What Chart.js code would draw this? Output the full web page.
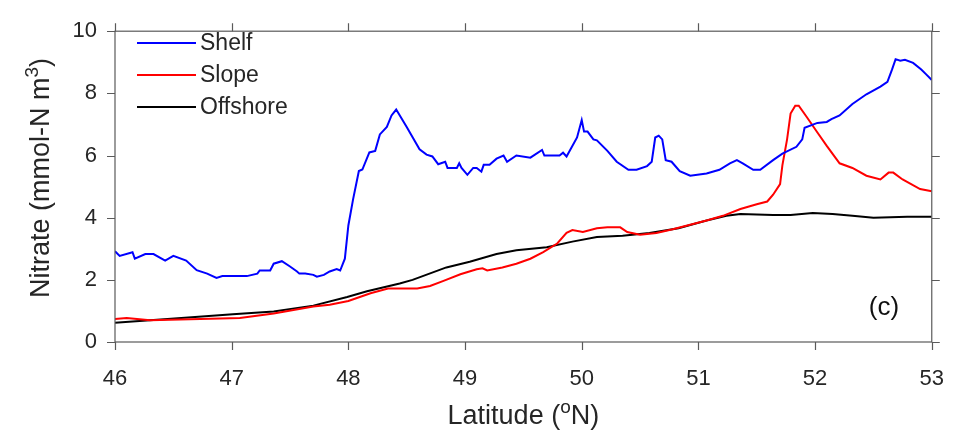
<!DOCTYPE html>
<html>
<head>
<meta charset="utf-8">
<script src="https://cdn.jsdelivr.net/npm/chart.js@4/dist/chart.umd.min.js"></script>
<style>
  html, body { margin: 0; padding: 0; background: #fff; }
  #wrap { width: 968px; height: 432px; }
</style>
</head>
<body>
<div id="wrap"><canvas id="nitrateChart" width="968" height="432"></canvas></div>
<script>
// Latitude (°N) / nitrate (mmol-N m^3) along each transect
const shelfLat = [46.0, 46.04, 46.15, 46.17, 46.26, 46.33, 46.43, 46.5, 46.61, 46.7, 46.79, 46.87, 46.92, 47.13, 47.22, 47.24, 47.33, 47.36, 47.43, 47.5, 47.56, 47.58, 47.63, 47.7, 47.73, 47.79, 47.84, 47.9, 47.93, 47.97, 48.0, 48.04, 48.09, 48.12, 48.18, 48.23, 48.27, 48.33, 48.37, 48.41, 48.5, 48.61, 48.67, 48.72, 48.77, 48.83, 48.85, 48.93, 48.95, 48.97, 49.02, 49.07, 49.1, 49.14, 49.16, 49.21, 49.27, 49.33, 49.36, 49.44, 49.56, 49.66, 49.68, 49.81, 49.84, 49.87, 49.96, 50.0, 50.02, 50.05, 50.1, 50.13, 50.22, 50.3, 50.4, 50.47, 50.56, 50.6, 50.63, 50.66, 50.69, 50.72, 50.77, 50.84, 50.93, 51.07, 51.18, 51.27, 51.33, 51.38, 51.47, 51.53, 51.64, 51.72, 51.84, 51.89, 51.91, 52.02, 52.1, 52.14, 52.21, 52.32, 52.44, 52.56, 52.62, 52.66, 52.69, 52.73, 52.77, 52.84, 52.91, 52.95, 53.0];
const shelfNo3 = [2.92, 2.77, 2.89, 2.68, 2.83, 2.83, 2.62, 2.77, 2.62, 2.31, 2.2, 2.06, 2.12, 2.12, 2.2, 2.3, 2.3, 2.52, 2.6, 2.43, 2.27, 2.2, 2.2, 2.16, 2.1, 2.16, 2.27, 2.35, 2.3, 2.68, 3.75, 4.58, 5.5, 5.55, 6.1, 6.15, 6.68, 6.92, 7.29, 7.48, 6.92, 6.2, 6.03, 5.97, 5.72, 5.8, 5.6, 5.6, 5.75, 5.6, 5.38, 5.6, 5.6, 5.48, 5.7, 5.7, 5.9, 6.0, 5.8, 6.0, 5.93, 6.18, 6.0, 6.0, 6.09, 5.97, 6.58, 7.14, 6.77, 6.77, 6.52, 6.49, 6.15, 5.8, 5.54, 5.54, 5.66, 5.8, 6.58, 6.64, 6.52, 5.85, 5.8, 5.5, 5.35, 5.42, 5.54, 5.75, 5.85, 5.75, 5.54, 5.54, 5.85, 6.06, 6.28, 6.52, 6.89, 7.05, 7.08, 7.17, 7.29, 7.66, 7.97, 8.22, 8.37, 8.77, 9.1, 9.05, 9.08, 8.98, 8.77, 8.62, 8.43];

const slopeLat = [46.0, 46.1, 46.3, 46.73, 47.07, 47.36, 47.7, 47.84, 48.0, 48.19, 48.34, 48.59, 48.7, 48.81, 48.96, 49.1, 49.15, 49.19, 49.32, 49.44, 49.56, 49.67, 49.79, 49.87, 49.92, 50.01, 50.13, 50.22, 50.33, 50.39, 50.5, 50.64, 50.78, 51.07, 51.21, 51.36, 51.5, 51.59, 51.64, 51.7, 51.72, 51.76, 51.79, 51.83, 51.86, 51.93, 52.02, 52.1, 52.21, 52.32, 52.44, 52.56, 52.63, 52.67, 52.75, 52.9, 53.0];
const slopeNo3 = [0.74, 0.77, 0.7, 0.74, 0.77, 0.92, 1.14, 1.2, 1.32, 1.57, 1.72, 1.72, 1.8, 1.96, 2.18, 2.34, 2.37, 2.3, 2.4, 2.52, 2.68, 2.89, 3.17, 3.51, 3.6, 3.54, 3.66, 3.69, 3.69, 3.54, 3.45, 3.51, 3.63, 3.91, 4.06, 4.28, 4.43, 4.52, 4.74, 5.08, 5.69, 6.52, 7.35, 7.6, 7.6, 7.23, 6.74, 6.31, 5.75, 5.6, 5.35, 5.23, 5.45, 5.45, 5.23, 4.92, 4.85];

const offshoreLat = [46.0, 46.45, 47.01, 47.36, 47.7, 47.99, 48.16, 48.44, 48.55, 48.84, 49.04, 49.27, 49.44, 49.7, 49.92, 50.13, 50.35, 50.58, 50.83, 51.07, 51.24, 51.36, 51.64, 51.79, 51.98, 52.15, 52.32, 52.5, 52.79, 53.0];
const offshoreNo3 = [0.62, 0.74, 0.89, 0.98, 1.17, 1.45, 1.63, 1.88, 2.0, 2.4, 2.58, 2.83, 2.95, 3.05, 3.23, 3.38, 3.42, 3.51, 3.66, 3.91, 4.06, 4.12, 4.09, 4.09, 4.15, 4.12, 4.06, 4.0, 4.03, 4.03];

const seriesNames = ['Shelf', 'Slope', 'Offshore'];
const xTicks = [46, 47, 48, 49, 50, 51, 52, 53];
const yTicks = [0, 2, 4, 6, 8, 10];

const FONT = "'Liberation Sans', Arial, Helvetica, sans-serif";
const TEXT = '#262626';
const AXIS = '#5a5a5a';

const toPoints = (lat, val) => lat.map((x, i) => ({ x, y: val[i] }));

// box outline with outward tick marks on every side
const frame = {
    id: 'frame',
    afterDraw(chart) {
        const { ctx, chartArea: a, scales: { x, y } } = chart;
        const len = 8;
        ctx.save();
        ctx.strokeStyle = AXIS;
        ctx.lineWidth = 1.2;
        ctx.strokeRect(a.left, a.top, a.right - a.left, a.bottom - a.top);
        ctx.beginPath();
        xTicks.forEach(v => {
            const px = Math.round(x.getPixelForValue(v)) + 0.5;
            ctx.moveTo(px, a.bottom); ctx.lineTo(px, a.bottom + len);
            ctx.moveTo(px, a.top); ctx.lineTo(px, a.top - len);
        });
        yTicks.forEach(v => {
            const py = Math.round(y.getPixelForValue(v)) + 0.5;
            ctx.moveTo(a.left, py); ctx.lineTo(a.left - len, py);
            ctx.moveTo(a.right, py); ctx.lineTo(a.right + len, py);
        });
        ctx.stroke();
        ctx.restore();
    }
};

// axis titles with superscripts, legend, panel letter
const annotate = {
    id: 'annotate',
    afterDraw(chart) {
        const { ctx, chartArea: a } = chart;
        ctx.save();
        ctx.fillStyle = TEXT;
        ctx.textBaseline = 'alphabetic';

        // parts: [text, isSuperscript]
        const drawParts = (parts, size) => {
            let w = 0;
            const big = `${size}px ${FONT}`, small = `${Math.round(size * 0.7)}px ${FONT}`;
            parts.forEach(([t, sup]) => { ctx.font = sup ? small : big; w += ctx.measureText(t).width; });
            let cx = -w / 2;
            parts.forEach(([t, sup]) => {
                ctx.font = sup ? small : big;
                ctx.fillText(t, cx, sup ? -size * 0.42 : 0);
                cx += ctx.measureText(t).width;
            });
        };

        ctx.textAlign = 'left';
        ctx.save();
        ctx.translate((a.left + a.right) / 2, 424);
        drawParts([['Latitude (', false], ['o', true], ['N)', false]], 27);
        ctx.restore();

        ctx.save();
        ctx.translate(49, 178);
        ctx.rotate(-Math.PI / 2);
        drawParts([['Nitrate (mmol-N m', false], ['3', true], [')', false]], 27);
        ctx.restore();

        // legend
        const rows = [43, 75, 107];
        chart.data.datasets.forEach((ds, i) => {
            ctx.strokeStyle = ds.borderColor;
            ctx.lineWidth = 2;
            ctx.beginPath();
            ctx.moveTo(137, rows[i]);
            ctx.lineTo(196, rows[i]);
            ctx.stroke();
            ctx.font = `23px ${FONT}`;
            ctx.textBaseline = 'middle';
            ctx.fillText(ds.label, 200, rows[i] + 1);
        });

        ctx.font = `26px ${FONT}`;
        ctx.textAlign = 'center';
        ctx.textBaseline = 'middle';
        ctx.fillStyle = '#111';
        ctx.fillText('(c)', 884, 308);
        ctx.restore();
    }
};

const colors = ['#0000ff', '#ff0000', '#000000'];
const sets = [toPoints(shelfLat, shelfNo3), toPoints(slopeLat, slopeNo3), toPoints(offshoreLat, offshoreNo3)];

new Chart(document.getElementById('nitrateChart'), {
    type: 'line',
    data: {
        datasets: sets.map((d, i) => ({
            label: seriesNames[i],
            data: d,
            borderColor: colors[i],
            borderWidth: 2,
            pointRadius: 0,
            tension: 0,
            fill: false
        }))
    },
    options: {
        responsive: false,
        animation: false,
        layout: { padding: { top: 17, right: 36, left: 0, bottom: 0 } },
        plugins: { legend: { display: false }, tooltip: { enabled: false } },
        scales: {
            x: {
                type: 'linear',
                min: 46, max: 53,
                afterBuildTicks: s => { s.ticks = xTicks.map(v => ({ value: v })); },
                afterFit: s => { s.height = 90; },
                grid: { display: false, drawTicks: false },
                border: { display: false },
                ticks: { color: TEXT, font: { family: FONT, size: 22 }, padding: 24, maxRotation: 0 }
            },
            y: {
                min: 0, max: 10,
                afterBuildTicks: s => { s.ticks = yTicks.map(v => ({ value: v })); },
                afterFit: s => { s.width = 115; },
                grid: { display: false, drawTicks: false },
                border: { display: false },
                ticks: { color: TEXT, font: { family: FONT, size: 22 }, padding: 18 }
            }
        }
    },
    plugins: [frame, annotate]
});
</script>
</body>
</html>
